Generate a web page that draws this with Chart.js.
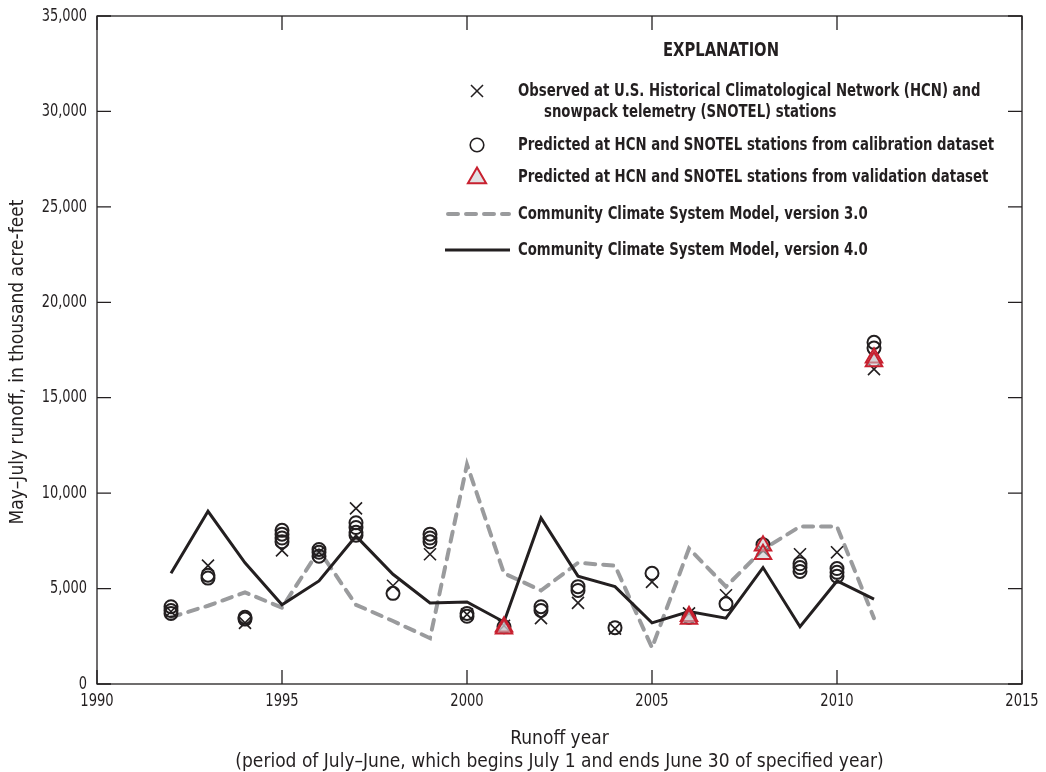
<!DOCTYPE html>
<html>
<head>
<meta charset="utf-8">
<script src="https://cdn.jsdelivr.net/npm/chart.js@4/dist/chart.umd.min.js"></script>
<style>
  html, body { margin: 0; padding: 0; background: #fff; }
  #wrap { width: 1046px; height: 772px; position: relative; }
</style>
</head>
<body>
<div id="wrap"><canvas id="c" width="1046" height="772"></canvas></div>
<script>
// ---- data ----
const years = [1992,1993,1994,1995,1996,1997,1998,1999,2000,2001,2002,2003,2004,2005,2006,2007,2008,2009,2010,2011];
const observed = [3800,6200,3200,7000,6900,9200,5150,6800,3650,3050,3450,4250,2900,5350,3700,4650,7000,6800,6900,16500];
const calibration = [
  [4050,3850,3700],[5700,5550],[3500,3400],[8050,7850,7650,7450],[7050,6900,6700],
  [8450,8200,7950,7800],[4750],[7850,7650,7450],[3700,3550],[3000],
  [4050,3850],[5100,4900],[2950],[5800],[3500],
  [4200],[7300],[6300,6100,5900],[6050,5850,5650],[17900,17600]
];
const validationYears = [2001,2006,2008,2011];
const validation = [[3000,2900],[3550,3400],[7250,6800],[17100,16900]];
const ccsm3 = [3500,4100,4800,4000,7000,4150,3300,2400,11500,5800,4900,6350,6200,1900,7100,5100,7050,8250,8250,3450];
const ccsm4 = [5800,9050,6350,4150,5400,7750,5750,4250,4300,3250,8700,5650,5100,3200,3800,3450,6100,3000,5400,4450];
const xTicks = [1990,1995,2000,2005,2010,2015];
const yTicks = [0,5000,10000,15000,20000,25000,30000,35000];
const xTitle = ['Runoff year', '(period of July–June, which begins July 1 and ends June 30 of specified year)'];
const yTitle = 'May–July runoff, in thousand acre-feet';
const legendTitle = 'EXPLANATION';
const legendLabels = [
  ["Observed at U.S. Historical Climatological Network (HCN) and", "snowpack telemetry (SNOTEL) stations"],
  ["Predicted at HCN and SNOTEL stations from calibration dataset"],
  ["Predicted at HCN and SNOTEL stations from validation dataset"],
  ["Community Climate System Model, version 3.0"],
  ["Community Climate System Model, version 4.0"]
];

// ---- build points ----
const obsPts = years.map((y, i) => ({x: y, y: observed[i]}));
const calPts = [];
years.forEach((y, i) => calibration[i].forEach(v => calPts.push({x: y, y: v})));
const valPts = [];
validationYears.forEach((y, i) => validation[i].forEach(v => valPts.push({x: y, y: v})));
const c3Pts = years.map((y, i) => ({x: y, y: ccsm3[i]}));
const c4Pts = years.map((y, i) => ({x: y, y: ccsm4[i]}));

const FONT = "'Liberation Sans Narrow', 'DejaVu Sans Condensed', 'Arial Narrow', sans-serif";
const INK = '#231f20';
const RED = '#c8202f';
const GRAYLINE = '#9a9b9d';

// draw condensed text (horizontal squeeze along the text direction)
function drawText(ctx, text, x, y, font, align, sx, rot) {
  ctx.save();
  ctx.translate(x, y);
  if (rot) ctx.rotate(rot);
  ctx.scale(sx, 1);
  ctx.font = font;
  ctx.textAlign = align;
  ctx.textBaseline = 'middle';
  ctx.fillStyle = INK;
  ctx.fillText(text, 0, 0);
  ctx.restore();
}

// ---- plugin: box with inward ticks, labels, legend ----
const framePlugin = {
  id: 'frame',
  afterDatasetsDraw(chart) {
    const ctx = chart.ctx;
    const a = chart.chartArea;
    const xs = chart.scales.x, ys = chart.scales.y;
    ctx.save();
    ctx.strokeStyle = INK;
    ctx.lineWidth = 1.3;
    ctx.strokeRect(a.left, a.top, a.right - a.left, a.bottom - a.top);
    const TL = 14;
    ctx.beginPath();
    xs.ticks.forEach(t => {
      const p = xs.getPixelForValue(t.value);
      ctx.moveTo(p, a.bottom); ctx.lineTo(p, a.bottom - TL);
      ctx.moveTo(p, a.top); ctx.lineTo(p, a.top + TL);
    });
    ys.ticks.forEach(t => {
      const p = ys.getPixelForValue(t.value);
      ctx.moveTo(a.left, p); ctx.lineTo(a.left + TL, p);
      ctx.moveTo(a.right, p); ctx.lineTo(a.right - TL, p);
    });
    ctx.stroke();
    ctx.restore();

    // tick labels
    const tf = "18px " + FONT;
    xs.ticks.forEach(t => {
      drawText(ctx, String(t.value), xs.getPixelForValue(t.value), a.bottom + 17, tf, 'center', 0.81);
    });
    ys.ticks.forEach(t => {
      drawText(ctx, t.value.toLocaleString('en-US'), a.left - 10, ys.getPixelForValue(t.value), tf, 'right', 0.8);
    });
    // axis titles
    const af = "19px " + FONT;
    const cx = (a.left + a.right) / 2;
    drawText(ctx, xTitle[0], cx, 739, af, 'center', 1.0);
    drawText(ctx, xTitle[1], cx, 762, af, 'center', 1.0);
    drawText(ctx, yTitle, 18, 362, af, 'center', 1.0, -Math.PI / 2);
  },
  afterDraw(chart) {
    const ctx = chart.ctx;
    drawText(ctx, legendTitle, 721, 51, "bold 20px " + FONT, 'center', 0.82);
    const lf = "bold 18px " + FONT;
    const mx = 477, tx = 518;
    const rowsY = [91, 145, 177, 214, 250];
    const draw = (style, r, y, opts) => {
      ctx.save();
      ctx.strokeStyle = opts.stroke; ctx.fillStyle = opts.fill; ctx.lineWidth = opts.lw;
      Chart.helpers.drawPoint(ctx, {pointStyle: style, radius: r, borderWidth: opts.lw}, mx, y);
      ctx.restore();
    };
    draw('crossRot', 8.5, rowsY[0], {stroke: INK, fill: 'rgba(0,0,0,0)', lw: 1.5});
    draw('circle', 6.8, rowsY[1], {stroke: INK, fill: 'rgba(0,0,0,0)', lw: 1.6});
    draw('triangle', 10.5, rowsY[2] + 1, {stroke: RED, fill: 'rgba(205,205,208,0.6)', lw: 2});
    ctx.save();
    ctx.lineCap = 'round';
    ctx.strokeStyle = GRAYLINE; ctx.lineWidth = 4; ctx.setLineDash([10, 8]);
    ctx.beginPath(); ctx.moveTo(448, rowsY[3]); ctx.lineTo(509, rowsY[3]); ctx.stroke();
    ctx.setLineDash([]); ctx.lineCap = 'butt';
    ctx.strokeStyle = INK; ctx.lineWidth = 3;
    ctx.beginPath(); ctx.moveTo(445, rowsY[4]); ctx.lineTo(510, rowsY[4]); ctx.stroke();
    ctx.restore();
    drawText(ctx, legendLabels[0][0], tx, rowsY[0], lf, 'left', 0.82);
    drawText(ctx, legendLabels[0][1], 544, rowsY[0] + 21, lf, 'left', 0.82);
    for (let i = 1; i < 5; i++) drawText(ctx, legendLabels[i][0], tx, rowsY[i], lf, 'left', 0.82);
  }
};

new Chart(document.getElementById('c'), {
  type: 'scatter',
  data: {
    datasets: [
      { label: 'validation', data: valPts, pointStyle: 'triangle', pointRadius: 9.5,
        borderColor: RED, backgroundColor: 'rgba(200,200,204,0.55)', borderWidth: 2, showLine: false },
      { label: 'observed', data: obsPts, pointStyle: 'crossRot', pointRadius: 8.5,
        borderColor: INK, backgroundColor: INK, borderWidth: 1.6, showLine: false },
      { label: 'calibration', data: calPts, pointStyle: 'circle', pointRadius: 6.5,
        borderColor: INK, backgroundColor: 'rgba(0,0,0,0)', borderWidth: 2, showLine: false },
      { label: 'CCSM4', data: c4Pts, showLine: true, borderColor: INK, borderWidth: 3,
        pointRadius: 0, fill: false, tension: 0 },
      { label: 'CCSM3', data: c3Pts, showLine: true, borderColor: GRAYLINE, borderWidth: 4,
        borderDash: [10, 8], borderCapStyle: 'round', pointRadius: 0, fill: false, tension: 0 }
    ]
  },
  options: {
    responsive: false,
    animation: false,
    events: [],
    layout: { padding: { left: 0, right: 24, top: 16, bottom: 0 } },
    plugins: { legend: { display: false }, tooltip: { enabled: false } },
    scales: {
      x: {
        type: 'linear', min: 1990, max: 2015,
        afterBuildTicks: s => { s.ticks = xTicks.map(v => ({value: v})); },
        afterFit: s => { s.height = 88; },
        grid: { display: false, drawTicks: false },
        border: { display: false },
        ticks: { display: false },
        title: { display: false }
      },
      y: {
        min: 0, max: 35000,
        afterBuildTicks: s => { s.ticks = yTicks.map(v => ({value: v})); },
        afterFit: s => { s.width = 97; },
        grid: { display: false, drawTicks: false },
        border: { display: false },
        ticks: { display: false },
        title: { display: false }
      }
    }
  },
  plugins: [framePlugin]
});
</script>
</body>
</html>
